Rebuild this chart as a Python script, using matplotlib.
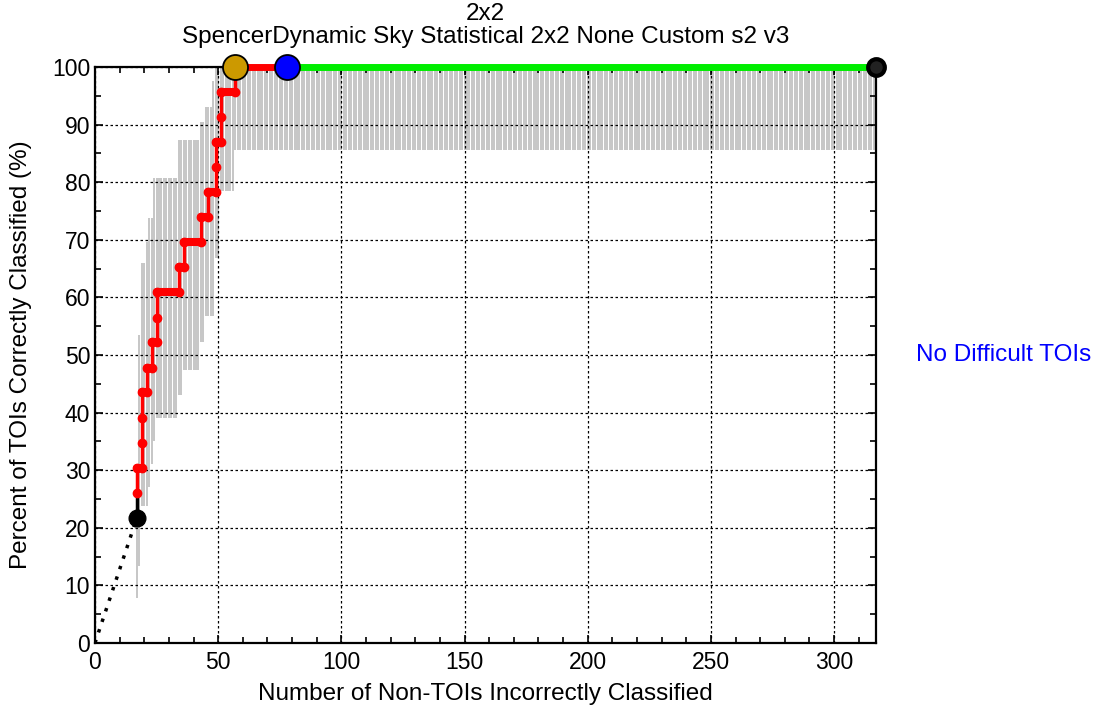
import numpy as np
import matplotlib
matplotlib.use("Agg")
import matplotlib.pyplot as plt
from matplotlib.ticker import MultipleLocator

plt.rcParams['font.family'] = ['Liberation Sans', 'DejaVu Sans']

# ROC step points (non-TOIs misclassified, % TOIs correct)
roc_x = [17, 17, 17, 19, 19, 19, 19, 21, 21, 23, 23, 25, 25, 25, 34, 34, 36,
         36, 43, 43, 46, 46, 49, 49, 49, 51, 51, 51, 57, 57]
roc_pct = [21.7, 26.1, 30.4, 30.4, 34.8, 39.1, 43.5, 43.5, 47.8, 47.8, 52.2,
           52.2, 56.5, 60.9, 60.9, 65.2, 65.2, 69.6, 69.6, 73.9, 73.9, 78.3,
           78.3, 82.6, 87.0, 87.0, 91.3, 95.7, 95.7, 100.0]

# key points
start_pt = (17, 21.7)
gold_pt = (57, 100.0)
blue_pt = (78, 100.0)
end_pt = (317, 100.0)

# confidence bars, runs of constant bounds
band_x_start = [17, 18, 19, 21, 22, 23, 24, 25, 34, 36, 43, 45, 48, 49, 51, 57]
band_x_end = [17, 18, 20, 21, 22, 23, 24, 33, 35, 42, 44, 47, 48, 50, 56, 317]
band_lo = [7.8, 13.4, 23.7, 23.7, 27, 31, 35, 39, 43, 47.4, 52.3, 56.7, 56.7, 66.8, 78.4, 85.6]
band_hi = [26, 53.5, 66, 69.7, 73.8, 73.8, 80.7, 80.7, 87.3, 87.3, 90.5, 93.1, 97.5, 100, 100, 100]

fig = plt.figure(figsize=(10.94, 7.10), dpi=100)
ax = fig.add_axes([0.0868, 0.0944, 0.7139, 0.8112])

# gray bars
for xs, xe, lo, hi in zip(band_x_start, band_x_end, band_lo, band_hi):
    xx = np.arange(xs, xe + 1)
    ax.vlines(xx, lo, hi, color='#bcbcbc', lw=1.2, zorder=1)

# dotted line from origin to first point
ax.plot([0, start_pt[0]], [0, start_pt[1]], color='black', lw=2.5,
        linestyle=(0, (1, 2.2)), zorder=3)
# short black segment
ax.plot([roc_x[0], roc_x[1]], [roc_pct[0], roc_pct[1]], color='black', lw=2.5, zorder=3)

# red steps
ax.plot(roc_x[1:], roc_pct[1:], color='red', lw=2.5, zorder=4)
for i in range(1, len(roc_x) - 1):
    if roc_pct[i] == roc_pct[i + 1]:
        ax.plot([roc_x[i], roc_x[i + 1]], [roc_pct[i], roc_pct[i]], color='red',
                lw=5.8, solid_capstyle='round', zorder=4)
ax.plot(roc_x[1:], roc_pct[1:], 'o', color='red', ms=6, mec='red', zorder=4)

# top: red then green
ax.plot([gold_pt[0], blue_pt[0]], [100, 100], color='red', lw=5, zorder=8,
        clip_on=False)
ax.plot([blue_pt[0], end_pt[0]], [100, 100], color='#00ee00', lw=5, zorder=8,
        clip_on=False)

ax.plot(*start_pt, 'o', color='black', ms=12, zorder=9)
ax.plot(*gold_pt, 'o', color='#cc9900', mec='black', mew=1.3, ms=18, zorder=9, clip_on=False)
ax.plot(*blue_pt, 'o', color='#0000ff', mec='black', mew=1.3, ms=18, zorder=9, clip_on=False)
ax.plot(*end_pt, 'o', color='#222222', mec='black', mew=3, ms=12, zorder=9, clip_on=False)

ax.set_xlim(0, 317)
ax.set_ylim(0, 100)
ax.xaxis.set_major_locator(MultipleLocator(50))
ax.xaxis.set_minor_locator(MultipleLocator(10))
ax.yaxis.set_major_locator(MultipleLocator(10))
ax.yaxis.set_minor_locator(MultipleLocator(5))
ax.tick_params(which='both', direction='in', top=True, right=True, labelsize=16.5,
               width=1.2)
ax.tick_params(which='major', length=6)
ax.tick_params(which='minor', length=4)
ax.tick_params(axis='x', pad=6)
ax.grid(True, which='major', color='black', linestyle=(0, (2, 2)), lw=0.9)
ax.set_axisbelow(False)
for s in ax.spines.values():
    s.set_linewidth(1.6)
    s.set_zorder(7)

ax.set_xlabel('Number of Non-TOIs Incorrectly Classified', fontsize=17.5, labelpad=6)
ax.set_ylabel('Percent of TOIs Correctly Classified (%)', fontsize=17.5, labelpad=14)
ax.set_title('2x2\nSpencerDynamic Sky Statistical 2x2 None Custom s2 v3',
             fontsize=17.5, pad=17, linespacing=1.1)

fig.text(0.917, 0.5, 'No Difficult TOIs', color='#0000ff', fontsize=17.5,
         ha='center', va='center')

fig.savefig('out.png', dpi=100)
